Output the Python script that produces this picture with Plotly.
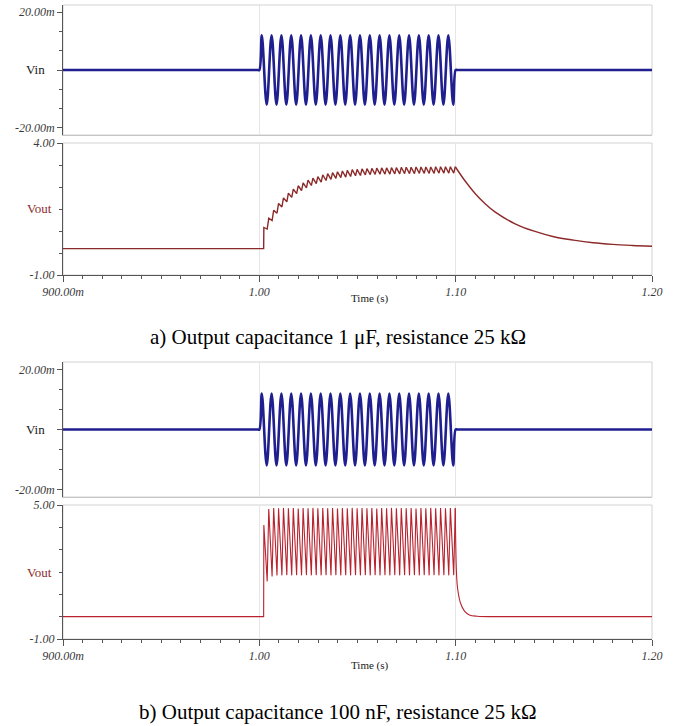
import plotly.graph_objects as go

# ---------------------------------------------------------------------------
# Data (time in seconds, input in mV, output in V)
# ---------------------------------------------------------------------------
t_ticks = [0.9, 1.0, 1.1, 1.2]
t_ticktext = ["900.00m", "1.00", "1.10", "1.20"]

# Input burst: extrema of the 200 Hz sine between 1.00 s and 1.10 s
vin_ext_t = [1.00125, 1.00375, 1.00625, 1.00875, 1.01125, 1.01375, 1.01625, 1.01875,
             1.02125, 1.02375, 1.02625, 1.02875, 1.03125, 1.03375, 1.03625, 1.03875,
             1.04125, 1.04375, 1.04625, 1.04875, 1.05125, 1.05375, 1.05625, 1.05875,
             1.06125, 1.06375, 1.06625, 1.06875, 1.07125, 1.07375, 1.07625, 1.07875,
             1.08125, 1.08375, 1.08625, 1.08875, 1.09125, 1.09375, 1.09625, 1.09875]
vin_ext_mv = [12.0, -12.0, 12.0, -12.0, 12.0, -12.0, 12.0, -12.0, 12.0, -12.0,
              12.0, -12.0, 12.0, -12.0, 12.0, -12.0, 12.0, -12.0, 12.0, -12.0,
              12.0, -12.0, 12.0, -12.0, 12.0, -12.0, 12.0, -12.0, 12.0, -12.0,
              12.0, -12.0, 12.0, -12.0, 12.0, -12.0, 12.0, -12.0, 12.0, -12.0]
vin_burst_start = 1.0
vin_burst_end = 1.1

# Output: charging peaks and ripple troughs for each half cycle
out_start = 1.0022
out_peak_t = [1.0023, 1.0048, 1.0073, 1.0098, 1.0123, 1.0148, 1.0173, 1.0198,
              1.0223, 1.0248, 1.0273, 1.0298, 1.0323, 1.0348, 1.0373, 1.0398,
              1.0423, 1.0448, 1.0473, 1.0498, 1.0523, 1.0548, 1.0573, 1.0598,
              1.0623, 1.0648, 1.0673, 1.0698, 1.0723, 1.0748, 1.0773, 1.0798,
              1.0823, 1.0848, 1.0873, 1.0898, 1.0923, 1.0948, 1.0973, 1.0998]
out_trough_t = [1.0040, 1.0065, 1.0090, 1.0115, 1.0140, 1.0165, 1.0190, 1.0215,
                1.0240, 1.0265, 1.0290, 1.0315, 1.0340, 1.0365, 1.0390, 1.0415,
                1.0440, 1.0465, 1.0490, 1.0515, 1.0540, 1.0565, 1.0590, 1.0615,
                1.0640, 1.0665, 1.0690, 1.0715, 1.0740, 1.0765, 1.0790, 1.0815,
                1.0840, 1.0865, 1.0890, 1.0915, 1.0940, 1.0965, 1.0990]

# a) C = 1 uF
vout_a_peak = [0.80, 1.15, 1.45, 1.71, 1.92, 2.10, 2.25, 2.38, 2.49, 2.59,
               2.67, 2.73, 2.79, 2.84, 2.88, 2.91, 2.94, 2.96, 2.99, 3.00,
               3.02, 3.03, 3.04, 3.05, 3.06, 3.06, 3.07, 3.07, 3.08, 3.08,
               3.08, 3.09, 3.09, 3.09, 3.09, 3.10, 3.10, 3.10, 3.10, 3.10]
vout_a_trough = [0.74, 1.06, 1.34, 1.58, 1.77, 1.94, 2.08, 2.20, 2.30, 2.39,
                 2.46, 2.52, 2.58, 2.62, 2.66, 2.69, 2.71, 2.73, 2.76, 2.77,
                 2.79, 2.80, 2.81, 2.82, 2.82, 2.82, 2.83, 2.83, 2.84, 2.84,
                 2.84, 2.85, 2.85, 2.85, 2.85, 2.86, 2.86, 2.86, 2.86]
vout_a_decay_t = [1.0998, 1.105, 1.11, 1.115, 1.12, 1.13, 1.14, 1.15, 1.16, 1.17, 1.18, 1.19, 1.20]
vout_a_decay_v = [3.10, 2.54, 2.08, 1.70, 1.39, 0.95, 0.66, 0.45, 0.32, 0.22, 0.16, 0.12, 0.09]

# b) C = 100 nF
vout_b_peak = [4.10, 4.82, 4.86, 4.85, 4.87, 4.85, 4.86, 4.84, 4.86, 4.85,
               4.87, 4.85, 4.86, 4.85, 4.86, 4.84, 4.86, 4.85, 4.87, 4.85,
               4.86, 4.85, 4.86, 4.84, 4.86, 4.85, 4.87, 4.85, 4.86, 4.85,
               4.86, 4.84, 4.86, 4.85, 4.87, 4.85, 4.86, 4.85, 4.86, 4.85]
vout_b_trough = [1.58, 1.80, 1.84, 1.85, 1.86, 1.85, 1.86, 1.85, 1.86, 1.85,
                 1.86, 1.85, 1.86, 1.85, 1.86, 1.85, 1.86, 1.85, 1.86, 1.85,
                 1.86, 1.85, 1.86, 1.85, 1.86, 1.85, 1.86, 1.85, 1.86, 1.85,
                 1.86, 1.85, 1.86, 1.85, 1.86, 1.85, 1.86, 1.85, 1.86]
vout_b_decay_t = [1.0998, 1.1004, 1.1010, 1.1025, 1.1045, 1.1070, 1.1110, 1.1200, 1.2000]
vout_b_decay_v = [4.85, 2.00, 1.25, 0.60, 0.25, 0.08, 0.02, 0.00, 0.00]

# ---------------------------------------------------------------------------
# Build traces
# ---------------------------------------------------------------------------
vin_t = [0.9, vin_burst_start - 0.0008, vin_burst_start] + vin_ext_t + [vin_burst_end, vin_burst_end + 0.0008, 1.2]
vin_v = [0.0, 0.0, 0.0] + vin_ext_mv + [0.0, 0.0, 0.0]


def ripple(peaks, troughs):
    xs, ys = [0.9, out_start], [0.0, 0.0]
    for k, (tp, vp) in enumerate(zip(out_peak_t, peaks)):
        xs.append(tp)
        ys.append(vp)
        if k < len(troughs):
            xs.append(out_trough_t[k])
            ys.append(troughs[k])
    return xs, ys


va_x, va_y = ripple(vout_a_peak, vout_a_trough)
vb_x, vb_y = ripple(vout_b_peak, vout_b_trough)

VIN_COLOR = "#1f1f8f"
VA_COLOR = "#8c2a2a"
VB_COLOR = "#b8232f"
LABEL_RED = "#8c2a2a"

fig = go.Figure()
fig.add_trace(go.Scatter(x=vin_t, y=vin_v, mode="lines", line=dict(color=VIN_COLOR, width=2.6, shape="spline"),
                         xaxis="x", yaxis="y", showlegend=False))
fig.add_trace(go.Scatter(x=va_x, y=va_y, mode="lines", line=dict(color=VA_COLOR, width=1.4),
                         xaxis="x2", yaxis="y2", showlegend=False))
fig.add_trace(go.Scatter(x=vout_a_decay_t, y=vout_a_decay_v, mode="lines",
                         line=dict(color=VA_COLOR, width=1.4, shape="spline"),
                         xaxis="x2", yaxis="y2", showlegend=False))
fig.add_trace(go.Scatter(x=vin_t, y=vin_v, mode="lines", line=dict(color=VIN_COLOR, width=2.6, shape="spline"),
                         xaxis="x3", yaxis="y3", showlegend=False))
fig.add_trace(go.Scatter(x=vb_x, y=vb_y, mode="lines", line=dict(color=VB_COLOR, width=1.1),
                         xaxis="x4", yaxis="y4", showlegend=False))
fig.add_trace(go.Scatter(x=vout_b_decay_t, y=vout_b_decay_v, mode="lines",
                         line=dict(color=VB_COLOR, width=1.1, shape="spline"),
                         xaxis="x4", yaxis="y4", showlegend=False))

# ---------------------------------------------------------------------------
# Layout
# ---------------------------------------------------------------------------
W, H = 686, 726
X0, X1 = 63, 652


def ydom(top, bottom):
    return [1 - bottom / H, 1 - top / H]


xdom = [X0 / W, X1 / W]
AXIS = "#555555"
GRID = "#e6e6e6"
FRAME = "#d2d2d2"
tickfont = dict(family="Liberation Serif", size=12, color="#3a3a3a", style="italic")


def x_axis(anchor, labels):
    ax = dict(domain=xdom, anchor=anchor, range=[0.9, 1.2], tickvals=t_ticks,
              showgrid=True, gridcolor=GRID, gridwidth=1, zeroline=False,
              showline=True, fixedrange=True, automargin=False)
    if labels:
        ax.update(ticktext=t_ticktext, showticklabels=True, tickfont=tickfont,
                  linecolor=AXIS, ticks="outside", ticklen=6, tickcolor=AXIS,
                  minor=dict(dtick=0.01, tick0=0.9, ticks="outside", ticklen=3, tickcolor=AXIS))
    else:
        ax.update(showticklabels=False, linecolor="#c4c4c4", ticks="")
    return ax


def y_axis(anchor, dom, rng, vals, text, minor_dtick, minor_tick0):
    return dict(domain=dom, anchor=anchor, range=rng, tickvals=vals, ticktext=text,
                tickfont=tickfont, showgrid=False, zeroline=False, showline=True,
                linecolor=AXIS, ticks="outside", ticklen=5, tickcolor=AXIS,
                minor=dict(dtick=minor_dtick, tick0=minor_tick0, ticks="outside", ticklen=3, tickcolor=AXIS),
                fixedrange=True, automargin=False)


dom_vin_a = ydom(5, 135)
dom_out_a = ydom(143, 275)
dom_vin_b = ydom(362, 497)
dom_out_b = ydom(505, 639)

fig.update_layout(
    width=W, height=H,
    margin=dict(l=0, r=0, t=0, b=0, autoexpand=False),
    paper_bgcolor="white", plot_bgcolor="white",
    xaxis=x_axis("y", False),
    xaxis2=x_axis("y2", True),
    xaxis3=x_axis("y3", False),
    xaxis4=x_axis("y4", True),
    yaxis=y_axis("x", dom_vin_a, [-22.5, 22.5], [-20, 0, 20], ["-20.00m", "", "20.00m"], 20 / 3, 0),
    yaxis2=y_axis("x2", dom_out_a, [-1, 4], [-1, 4], ["-1.00", "4.00"], 5 / 6, -1),
    yaxis3=y_axis("x3", dom_vin_b, [-22.5, 22.5], [-20, 0, 20], ["-20.00m", "", "20.00m"], 20 / 3, 0),
    yaxis4=y_axis("x4", dom_out_b, [-1, 5], [-1, 5], ["-1.00", "5.00"], 1, -1),
)

# light frames around every plot area
shapes = []
for xr, yr in [("x", "y"), ("x2", "y2"), ("x3", "y3"), ("x4", "y4")]:
    shapes.append(dict(type="rect", xref=f"{xr} domain", yref=f"{yr} domain",
                       x0=0, x1=1, y0=0, y1=1, line=dict(color=FRAME, width=1), layer="below"))
fig.update_layout(shapes=shapes)

serif = "Liberation Serif"
ann = []


def add_label(text, px_x, dom, color):
    ann.append(dict(text=text, xref="paper", yref="paper", x=px_x / W, y=(dom[0] + dom[1]) / 2,
                    xanchor="center", yanchor="middle", showarrow=False,
                    font=dict(family=serif, size=13, color=color)))


add_label("Vin", 35, dom_vin_a, "#202020")
add_label("Vout", 39, dom_out_a, LABEL_RED)
add_label("Vin", 35, dom_vin_b, "#202020")
add_label("Vout", 39, dom_out_b, LABEL_RED)

for px_y in (298, 665):
    ann.append(dict(text="Time (s)", xref="paper", yref="paper", x=370 / W, y=1 - px_y / H,
                    xanchor="center", yanchor="middle", showarrow=False,
                    font=dict(family=serif, size=11, color="#202020")))

ann.append(dict(text="a) Output capacitance 1 μF, resistance 25 kΩ", xref="paper", yref="paper",
                x=338 / W, y=1 - 337 / H, xanchor="center", yanchor="middle", showarrow=False,
                font=dict(family=serif, size=21, color="black")))
ann.append(dict(text="b) Output capacitance 100 nF, resistance 25 kΩ", xref="paper", yref="paper",
                x=338 / W, y=1 - 712 / H, xanchor="center", yanchor="middle", showarrow=False,
                font=dict(family=serif, size=21, color="black")))
fig.update_layout(annotations=ann)

fig.write_html("out.html")
